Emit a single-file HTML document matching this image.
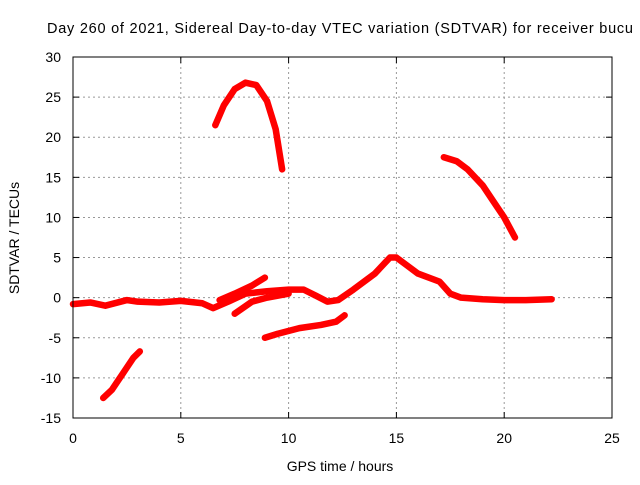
<!DOCTYPE html>
<html><head><meta charset="utf-8"><style>
body{margin:0;background:#fff;width:640px;height:480px;overflow:hidden;font-family:"Liberation Sans",sans-serif}
svg text{font-family:"Liberation Sans",sans-serif;font-size:14px;fill:#000}
</style></head><body>
<svg id="c" width="640" height="480">
<text x="47" y="33" style="font-size:14.5px" textLength="586" lengthAdjust="spacing">Day 260 of 2021, Sidereal Day-to-day VTEC variation (SDTVAR) for receiver bucu</text>
<text x="340" y="471" text-anchor="middle">GPS time / hours</text>
<text x="19" y="238" text-anchor="middle" transform="rotate(-90 19 238)">SDTVAR / TECUs</text>
<g id="grid"></g><g id="marks"></g>
<rect x="73" y="57" width="539" height="361" fill="none" stroke="#000"/>
</svg>
<script>
const xTicks=[0,5,10,15,20,25];
const yTicks=[-15,-10,-5,0,5,10,15,20,25,30];
const seriesA=[[6.6,21.5],[7,24],[7.5,26],[8,26.8],[8.5,26.5],[9,24.5],[9.4,21],[9.7,16]];
const seriesB=[[17.2,17.5],[17.8,17],[18.3,16],[19,14],[19.5,12],[20,10],[20.5,7.5]];
const seriesC=[[1.4,-12.5],[1.8,-11.5],[2.3,-9.5],[2.8,-7.5],[3.1,-6.7]];
const seriesD=[[0,-0.8],[0.8,-0.6],[1.5,-1],[2.5,-0.3],[3,-0.5],[4,-0.6],[5,-0.4],[6,-0.7],[6.5,-1.3],[7.2,-0.5],[8,0.5],[9,0.8],[10,1],[10.7,1],[11.3,0.2],[11.8,-0.5],[12.3,-0.3],[13,1],[14,3],[14.7,5],[15,5],[15.5,4],[16,3],[17,2],[17.5,0.5],[18,0],[19,-0.2],[20,-0.3],[21,-0.3],[22.2,-0.2]];
const seriesE=[[6.8,-0.3],[7.5,0.5],[8.3,1.5],[8.9,2.5]];
const seriesF=[[7.5,-2],[8.3,-0.5],[9,0],[10,0.5]];
const seriesG=[[8.9,-5],[9.5,-4.5],[10.5,-3.8],[11.5,-3.4],[12.2,-3],[12.6,-2.2]];
const X=h=>73+h*539/25, Y=v=>418-(v+15)*361/45;
const NS='http://www.w3.org/2000/svg';
const g=document.getElementById('grid'), m=document.getElementById('marks');
function el(t,a,p){const e=document.createElementNS(NS,t);for(const k in a)e.setAttribute(k,a[k]);p.appendChild(e);return e;}
xTicks.forEach(t=>{
 if(t>0&&t<25){const l=el('line',{x1:X(t),x2:X(t),y1:57,y2:418,stroke:'#999','stroke-dasharray':'2,3'},g);
 
 }
 const tx=el('text',{x:X(t),y:443,'text-anchor':'middle'},g);tx.textContent=t;
 
 
 el('line',{x1:X(t),x2:X(t),y1:418,y2:412,stroke:'#000'},g);el('line',{x1:X(t),x2:X(t),y1:57,y2:63,stroke:'#000'},g);
});
yTicks.forEach(t=>{
 if(t>-15&&t<30){const l=el('line',{x1:73,x2:612,y1:Y(t),y2:Y(t),stroke:'#999','stroke-dasharray':'2,3'},g);
 
 }
 const tx=el('text',{x:61,y:Y(t)+5,'text-anchor':'end'},g);tx.textContent=t;
 
 
 el('line',{x1:73,x2:79,y1:Y(t),y2:Y(t),stroke:'#000'},g);el('line',{x1:612,x2:606,y1:Y(t),y2:Y(t),stroke:'#000'},g);
});
[seriesA,seriesB,seriesC,seriesD,seriesE,seriesF,seriesG].forEach((s,i)=>{
 const p=el('polyline',{points:s.map(d=>X(d[0])+','+Y(d[1])).join(' '),fill:'none',stroke:'#f00','stroke-width':6.5,'stroke-linejoin':'round','stroke-linecap':'round'},m);
 
 
});
</script>
</body></html>
